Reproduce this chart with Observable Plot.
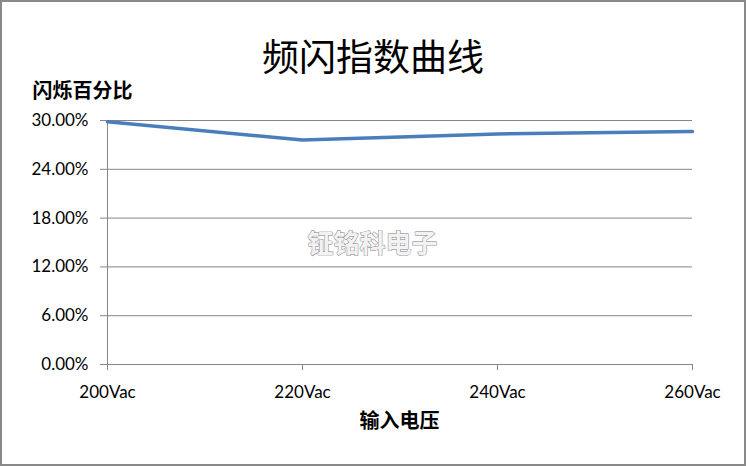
<!DOCTYPE html>
<html>
<head>
<meta charset="utf-8">
<script src="https://cdn.jsdelivr.net/npm/d3@7"></script>
<script src="https://cdn.jsdelivr.net/npm/@observablehq/plot@0.6"></script>
<style>
  html, body { margin: 0; padding: 0; background: #fff; }
  #wrap { position: relative; width: 746px; height: 466px; overflow: hidden; background: #fff; }
  #title { position: absolute; left: 0; top: 33px; width: 746px; text-align: center; font-family: "Noto Sans CJK SC", sans-serif; font-size: 37px; line-height: 44px; color: #000; }
  #border { position: absolute; left: 0; top: 0; width: 746px; height: 466px; border: 2px solid #898989; box-sizing: border-box; pointer-events: none; }
  svg { display: block; }
</style>
</head>
<body>
<div id="wrap">
  <div id="chart"></div>
  <div id="title">频闪指数曲线</div>
  <div id="border"></div>
</div>
<script>
const voltages = ["200Vac", "220Vac", "240Vac", "260Vac"];
const flicker = [0.2985, 0.2760, 0.2835, 0.2865];
const yTicks = [0, 0.06, 0.12, 0.18, 0.24, 0.30];
const yTitle = "闪烁百分比";
const xTitle = "输入电压";
const watermark = "钲铭科电子";

const data = voltages.map((v, i) => ({v, p: flicker[i]}));
const gray = "#868686";
const cjk = "'Noto Sans CJK SC', sans-serif";

const chart = Plot.plot({
  width: 746,
  height: 466,
  marginTop: 120,
  marginBottom: 102,
  marginLeft: 106,
  marginRight: 54,
  style: {fontFamily: "Lato, sans-serif", fontSize: "17px", color: "#000", background: "transparent"},
  x: {type: "point", domain: voltages, padding: 0},
  y: {domain: [0, 0.30]},
  marks: [
    Plot.gridY(yTicks, {stroke: gray, strokeOpacity: 1}),
    Plot.ruleX([voltages[0]], {stroke: gray}),
    Plot.axisY({ticks: yTicks, tickFormat: d3.format(".2%"), tickSize: 6, tickPadding: 12, stroke: gray, fill: "#000", fontSize: 17, label: null}),
    Plot.axisX({tickSize: 6, tickPadding: 15, stroke: gray, fill: "#000", fontSize: 17, label: null}),
    Plot.text([watermark], {text: d => d, frameAnchor: "top-left", dx: 266, dy: 114, textAnchor: "middle", fontSize: 26, fontWeight: "bold", fontFamily: cjk, fill: "#f2f2f2", stroke: "#7a7a7a", strokeWidth: 0.9}),
    Plot.line(data, {x: "v", y: "p", stroke: "#4A7EBB", strokeWidth: 3.5}),
    Plot.text([yTitle], {text: d => d, frameAnchor: "top-left", dx: -74, dy: -37, textAnchor: "start", fontSize: 20, fontWeight: "bold", fontFamily: cjk, fill: "#000"}),
    Plot.text([xTitle], {text: d => d, frameAnchor: "bottom", dy: 63, fontSize: 20, fontWeight: "bold", fontFamily: cjk, fill: "#000"})
  ]
});
document.getElementById("chart").appendChild(chart);
</script>
</body>
</html>
